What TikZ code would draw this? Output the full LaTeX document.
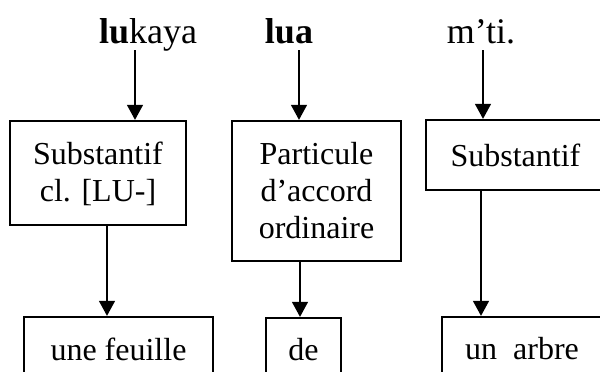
\documentclass[tikz,border=0pt]{standalone}
\usepackage{fontspec}
\setmainfont{Liberation Serif}
\usetikzlibrary{arrows.meta}

\begin{document}
\begin{tikzpicture}[
    x=1pt, y=-1pt,
    wordlbl/.style={font=\fontsize{36}{40}\selectfont, anchor=base, inner sep=0pt, text depth=7pt},
    catbox/.style={draw, line width=2.3pt, align=center, inner sep=0pt, font=\fontsize{32}{37}\selectfont},
    arrow/.style={-{Triangle[length=15pt,width=16pt]}, line width=1.3pt}
  ]
  \useasboundingbox (0,0) rectangle (600,372);
  % words
  \node[wordlbl] (lukaya) at (148,43) {\textbf{lu}kaya};
  \node[wordlbl] (lua) at (289,43) {\textbf{lua}};
  \node[wordlbl] (mti) at (481,43) {m’ti.};
  % categories
  \node[catbox, minimum width=176, minimum height=104, text depth=3pt] (subst1) at (98,173) {Substantif\\cl. [LU-]};
  \node[catbox, minimum width=169, minimum height=140] (partic) at (316.5,191) {Particule\\d’accord\\ordinaire};
  \node[catbox, minimum width=179, minimum height=70] (subst2) at (515.5,155) {Substantif};
  % glosses
  \node[catbox, minimum width=189, minimum height=64] (feuille) at (118.5,349) {une feuille};
  \node[catbox, minimum width=75, minimum height=64] (de) at (303.5,350) {de};
  \node[catbox, minimum width=160, minimum height=64] (arbre) at (522,349) {un~~arbre};
  \draw[arrow] ([xshift=-13pt]lukaya.south) -- ([xshift=-13pt]lukaya.south |- subst1.north);
  \draw[arrow] ([xshift=10pt]lua.south) -- ([xshift=10pt]lua.south |- partic.north);
  \draw[arrow] ([xshift=2pt]mti.south) -- ([xshift=2pt]mti.south |- subst2.north);
  \draw[arrow] ([xshift=9pt]subst1.south) -- ([xshift=9pt]subst1.south |- feuille.north);
  \draw[arrow] ([xshift=-16.5pt]partic.south) -- ([xshift=-16.5pt]partic.south |- de.north);
  \draw[arrow] ([xshift=-34.5pt]subst2.south) -- ([xshift=-34.5pt]subst2.south |- arbre.north);
\end{tikzpicture}
\end{document}
